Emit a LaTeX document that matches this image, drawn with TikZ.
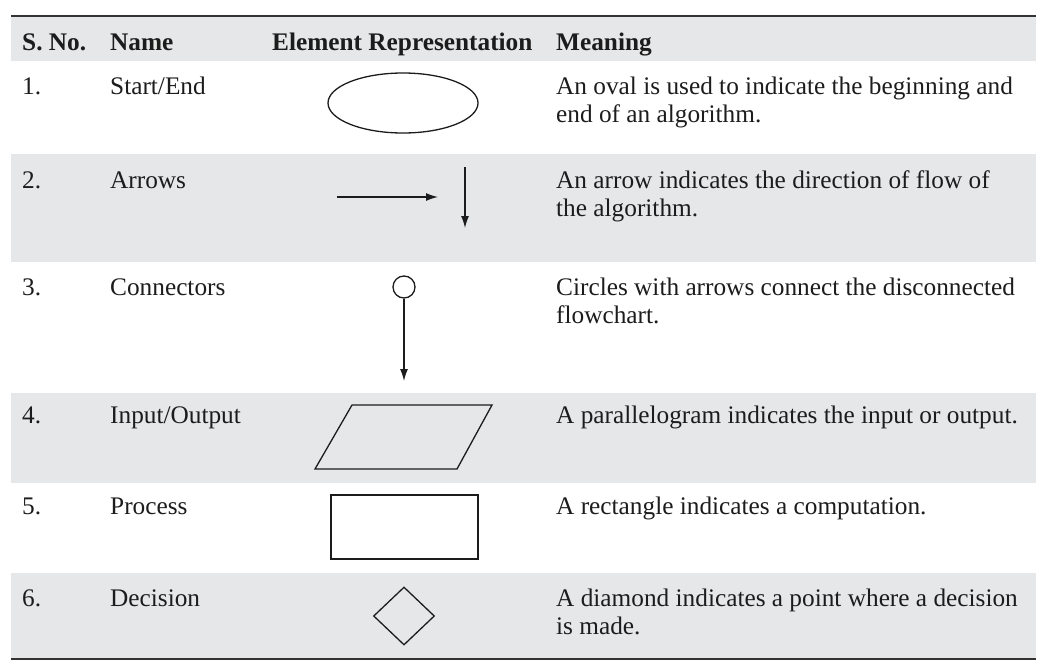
\documentclass[tikz,border=0pt]{standalone}
\usepackage{fontspec}
\setmainfont{Liberation Serif}
\usetikzlibrary{shapes.geometric,arrows.meta}
\definecolor{band}{RGB}{230,231,232}
\definecolor{ink}{RGB}{28,28,28}
\begin{document}
\begin{tikzpicture}[x=1pt,y=-1pt,
  txt/.style={anchor=base west,inner sep=0pt,font=\fontsize{25.3}{28}\selectfont,text=ink},
  hdr/.style={txt,font=\fontsize{25.3}{28}\selectfont\bfseries},
  shp/.style={draw=ink,line width=1.3pt,inner sep=0pt},
  arr/.style={draw=ink,line width=1.3pt,-{Latex[length=12pt,width=8pt]}},
  tablerule/.style={draw=ink!90,line width=2.2pt}]
\useasboundingbox (0,0) rectangle (1041,664);
% bands
\fill[band] (11,17) rectangle (1036,61);
\fill[band] (11,154) rectangle (1036,262);
\fill[band] (11,393) rectangle (1036,483);
\fill[band] (11,573) rectangle (1036,658);
% rules
\coordinate (tl) at (11,16);
\coordinate (tr) at (1036,16);
\coordinate (bl) at (11,659);
\coordinate (br) at (1036,659);
\draw[tablerule] (tl) -- (tr);
\draw[tablerule] (bl) -- (br);
% header
\node[hdr] (h1) at (22,50) {S. No.};
\node[hdr] (h2) at (110,50) {Name};
\node[hdr] (h3) at (272,50) {Element Representation};
\node[hdr] (h4) at (556,50) {Meaning};
% row 1
\node[txt] (n1) at (22,94) {1.};
\node[txt] (t1) at (110,94) {Start/End};
\node[txt] (m1a) at (556,94) {An oval is used to indicate the beginning and};
\node[txt] (m1b) at (556,122) {end of an algorithm.};
\node[shp,ellipse,minimum width=150pt,minimum height=60pt] (oval) at (403,103) {};
% row 2
\node[txt] (n2) at (22,188) {2.};
\node[txt] (t2) at (110,188) {Arrows};
\node[txt] (m2a) at (556,188) {An arrow indicates the direction of flow of};
\node[txt] (m2b) at (556,216) {the algorithm.};
\coordinate (ha) at (337,197);
\coordinate (hb) at (438,197);
\coordinate (va) at (465,167);
\coordinate (vb) at (465,228);
\draw[arr] (ha) -- (hb);
\draw[arr] (va) -- (vb);
% row 3
\node[txt] (n3) at (22,295) {3.};
\node[txt] (t3) at (110,295) {Connectors};
\node[txt] (m3a) at (556,295) {Circles with arrows connect the disconnected};
\node[txt] (m3b) at (556,323) {flowchart.};
\node[shp,circle,minimum size=22pt] (conn) at (404,287) {};
\coordinate (connend) at (404,381);
\draw[arr] (conn.south) -- (connend);
% row 4
\node[txt] (n4) at (22,423) {4.};
\node[txt] (t4) at (110,423) {Input/Output};
\node[txt] (m4a) at (556,423) {A parallelogram indicates the input or output.};
\draw[draw=ink,line width=1.3pt,line join=miter] (352,405) -- (492,405) -- (457,469) -- (315,469) -- cycle;
% row 5
\node[txt] (n5) at (22,514) {5.};
\node[txt] (t5) at (110,514) {Process};
\node[txt] (m5a) at (556,514) {A rectangle indicates a computation.};
\node[shp,rectangle,minimum width=147pt,minimum height=64pt] (proc) at (404.5,527) {};
% row 6
\node[txt] (n6) at (22,606) {6.};
\node[txt] (t6) at (110,606) {Decision};
\node[txt] (m6a) at (556,606) {A diamond indicates a point where a decision};
\node[txt] (m6b) at (556,634) {is made.};
\node[shp,diamond,minimum width=61pt,minimum height=58pt] (dec) at (404,616) {};
\end{tikzpicture}
\end{document}
